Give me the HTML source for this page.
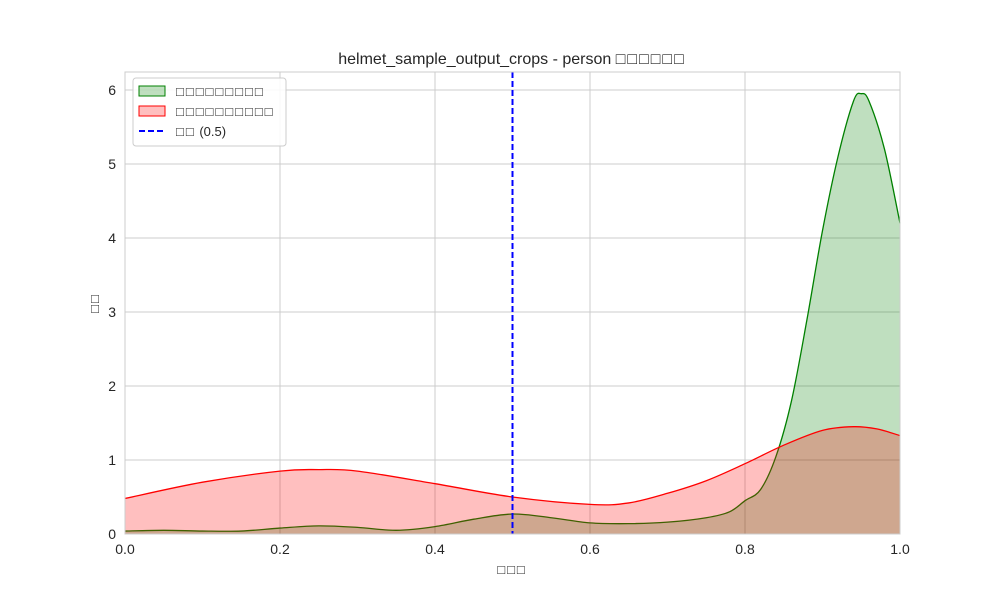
<!DOCTYPE html>
<html><head><meta charset="utf-8"><style>
body{margin:0;background:#fff;font-family:"Liberation Sans","Noto Sans CJK SC",sans-serif}
.tofu{letter-spacing:2px}
</style></head><body>
<svg id="chart" width="1000" height="600" xmlns="http://www.w3.org/2000/svg" font-family="Liberation Sans, Noto Sans CJK SC, sans-serif">
<rect width="1000" height="600" fill="#fff"/>
<g id="grid"></g>
<g id="series"></g>
<rect x="125" y="72" width="775" height="462" fill="none" stroke="#ccc"/>
<g id="ticks" font-size="14" fill="#262626"></g>
<text x="512" y="64" text-anchor="middle" font-size="16" fill="#262626">helmet_sample_output_crops - person <tspan class="tofu">□□□□□□</tspan></text>
<text class="tofu" x="512" y="574" text-anchor="middle" font-size="13" fill="#262626">□□□</text>
<text class="tofu" transform="translate(99,303) rotate(-90)" text-anchor="middle" font-size="13" fill="#262626">□□</text>
<g>
<rect x="133" y="78" width="153" height="68" rx="3" fill="#fff" fill-opacity="0.85" stroke="#ccc"/>
<rect x="139" y="86" width="26" height="10" fill="green" fill-opacity="0.25" stroke="green"/>
<text class="tofu" x="176" y="96" font-size="13" fill="#262626">□□□□□□□□□</text>
<rect x="139" y="106" width="26" height="10" fill="red" fill-opacity="0.25" stroke="red"/>
<text class="tofu" x="176" y="116" font-size="13" fill="#262626">□□□□□□□□□□</text>
<line x1="139" y1="131" x2="165" y2="131" stroke="blue" stroke-width="2" stroke-dasharray="6,3"/>
<text x="176" y="136" font-size="13" fill="#262626"><tspan class="tofu">□□</tspan> (0.5)</text>
</g>
</svg>
<script>
const xTicks=[0,0.2,0.4,0.6,0.8,1.0];
const yTicks=[0,1,2,3,4,5,6];
const greenX=[0,0.05,0.1,0.15,0.2,0.25,0.3,0.35,0.4,0.45,0.5,0.55,0.6,0.65,0.7,0.75,0.78,0.8,0.82,0.84,0.86,0.88,0.9,0.92,0.94,0.95,0.96,0.98,1.0];
const greenY=[0.04,0.05,0.04,0.04,0.08,0.11,0.09,0.05,0.1,0.2,0.27,0.22,0.15,0.14,0.16,0.22,0.3,0.45,0.6,1.05,1.8,2.9,4.1,5.1,5.85,5.95,5.85,5.2,4.2];
const redX=[0,0.1,0.2,0.25,0.3,0.4,0.5,0.6,0.65,0.7,0.75,0.8,0.85,0.9,0.94,0.97,1.0];
const redY=[0.48,0.7,0.85,0.87,0.85,0.68,0.5,0.4,0.42,0.55,0.72,0.95,1.2,1.4,1.45,1.42,1.33];
const threshold=0.5;
const X=v=>125+v*775, Y=v=>534-v*74;
const NS="http://www.w3.org/2000/svg";
function mk(tag,attrs,parent){const e=document.createElementNS(NS,tag);for(const k in attrs)e.setAttribute(k,attrs[k]);parent.appendChild(e);return e;}
const grid=document.getElementById('grid'),ticks=document.getElementById('ticks'),ser=document.getElementById('series');
xTicks.forEach(t=>{const l=mk('line',{x1:X(t),x2:X(t),y1:72,y2:534,stroke:'#ccc'},grid);


const tx=mk('text',{x:X(t),y:554,'text-anchor':'middle'},ticks);tx.textContent=t.toFixed(1);

});
yTicks.forEach(t=>{const l=mk('line',{x1:125,x2:900,y1:Y(t),y2:Y(t),stroke:'#ccc'},grid);


const tx=mk('text',{x:116,y:Y(t)+5,'text-anchor':'end'},ticks);tx.textContent=t;

});
function smooth(xs,ys){
 const p=xs.map((x,i)=>[X(x),Y(ys[i])]);
 let d='';
 for(let i=0;i<p.length-1;i++){
  const p0=p[Math.max(0,i-1)],p1=p[i],p2=p[i+1],p3=p[Math.min(p.length-1,i+2)];
  const c1=[p1[0]+(p2[0]-p0[0])/6,p1[1]+(p2[1]-p0[1])/6];
  const c2=[p2[0]-(p3[0]-p1[0])/6,p2[1]-(p3[1]-p1[1])/6];
  d+=' C'+c1[0]+','+c1[1]+' '+c2[0]+','+c2[1]+' '+p2[0]+','+p2[1];
 }
 return {start:p[0],d};
}
function draw(xs,ys,col,name){
 const s=smooth(xs,ys);
 const a=mk('path',{d:'M'+X(xs[0])+','+Y(0)+' L'+s.start[0]+','+s.start[1]+s.d+' L'+X(xs[xs.length-1])+','+Y(0)+'Z',fill:col,'fill-opacity':0.25,stroke:'none'},ser);
 
 
 const l=mk('path',{d:'M'+s.start[0]+','+s.start[1]+s.d,fill:'none',stroke:col,'stroke-width':1.3},ser);
 
 
}
draw(greenX,greenY,'green','correct-density');
draw(redX,redY,'red','incorrect-density');
const th=mk('line',{x1:X(threshold),x2:X(threshold),y1:72,y2:534,stroke:'blue','stroke-width':2,'stroke-dasharray':'6,3'},ser);


</script>
</body></html>
